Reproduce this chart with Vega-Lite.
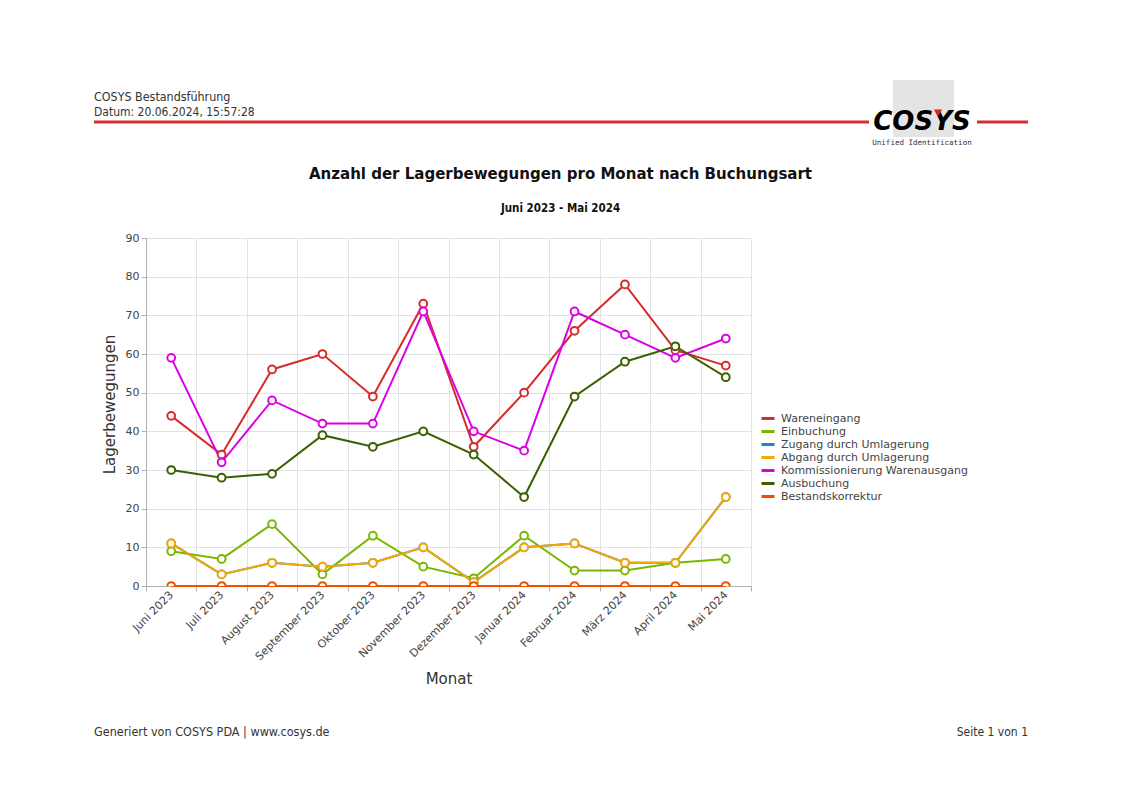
{
  "$schema": "https://vega.github.io/schema/vega-lite/v6.json",
  "background": "white",
  "padding": {"left": 92, "top": 80, "right": 10, "bottom": 10},
  "bounds": "flush",
  "spacing": 20,
  "config": {"view": {"stroke": null}, "font": "DejaVu Sans"},
  "vconcat": [
    {
      "width": 882,
      "height": 96,
      "data": {"values": [{}]},
      "layer": [
        {"mark": {"type": "rule", "color": "#d32f2f", "strokeWidth": 3},
         "encoding": {"x": {"datum": 94, "type": "quantitative", "scale": {"domain": [94, 1028], "range": [-52, 882], "nice": false, "zero": false}, "axis": null}, "x2": {"datum": 869}, "y": {"datum": 122, "type": "quantitative", "scale": {"domain": [122, 218], "range": [0, 96], "nice": false, "zero": false}, "axis": null}}},
        {"mark": {"type": "rule", "color": "#d32f2f", "strokeWidth": 3},
         "encoding": {"x": {"datum": 977, "type": "quantitative"}, "x2": {"datum": 1028}, "y": {"datum": 122, "type": "quantitative"}}},
        {"mark": {"type": "text", "text": "COSYS Bestandsführung", "font": "DejaVu Sans Condensed", "fontSize": 12.4, "color": "#333333", "align": "left", "baseline": "middle"},
         "encoding": {"x": {"datum": 94, "type": "quantitative"}, "y": {"datum": 97, "type": "quantitative"}}},
        {"mark": {"type": "text", "text": "Datum: 20.06.2024, 15:57:28", "font": "DejaVu Sans Condensed", "fontSize": 12, "color": "#333333", "align": "left", "baseline": "middle"},
         "encoding": {"x": {"datum": 94, "type": "quantitative"}, "y": {"datum": 112, "type": "quantitative"}}},
        {"mark": {"type": "rect", "color": "#e4e4e4"},
         "encoding": {"x": {"datum": 893, "type": "quantitative"}, "x2": {"datum": 954}, "y": {"datum": 80, "type": "quantitative"}, "y2": {"datum": 137}}},
        {"mark": {"type": "text", "text": "COSYS", "font": "DejaVu Sans", "fontWeight": "bold", "fontStyle": "italic", "fontSize": 26, "color": "#000000", "align": "center", "baseline": "middle"},
         "encoding": {"x": {"datum": 922, "type": "quantitative"}, "y": {"datum": 122, "type": "quantitative"}}},
        {"mark": {"type": "point", "shape": "triangle-down", "filled": true, "color": "#e02020", "size": 70, "opacity": 1},
         "encoding": {"x": {"datum": 938, "type": "quantitative"}, "y": {"datum": 113, "type": "quantitative"}}},
        {"mark": {"type": "text", "text": "Unified Identification", "font": "DejaVu Sans Mono", "fontSize": 7.5, "color": "#333333", "align": "center", "baseline": "middle"},
         "encoding": {"x": {"datum": 922, "type": "quantitative"}, "y": {"datum": 143, "type": "quantitative"}}}
      ]
    },
    {
      "width": 605,
      "height": 348,
      "title": {"text": "Anzahl der Lagerbewegungen pro Monat nach Buchungsart", "subtitle": "Juni 2023 - Mai 2024", "anchor": "middle", "frame": "group", "dx": 112, "offset": 18, "font": "DejaVu Sans Condensed", "fontSize": 16.7, "fontWeight": "bold", "color": "#111111", "subtitleFont": "DejaVu Sans Condensed", "subtitleFontSize": 11.5, "subtitleFontWeight": "bold", "subtitleColor": "#111111", "subtitlePadding": 20},
      "data": {"values": [
        {"Monat": "Juni 2023", "Wareneingang": 44, "Einbuchung": 9, "Zugang durch Umlagerung": 11, "Abgang durch Umlagerung": 11, "Kommissionierung Warenausgang": 59, "Ausbuchung": 30, "Bestandskorrektur": 0},
        {"Monat": "Juli 2023", "Wareneingang": 34, "Einbuchung": 7, "Zugang durch Umlagerung": 3, "Abgang durch Umlagerung": 3, "Kommissionierung Warenausgang": 32, "Ausbuchung": 28, "Bestandskorrektur": 0},
        {"Monat": "August 2023", "Wareneingang": 56, "Einbuchung": 16, "Zugang durch Umlagerung": 6, "Abgang durch Umlagerung": 6, "Kommissionierung Warenausgang": 48, "Ausbuchung": 29, "Bestandskorrektur": 0},
        {"Monat": "September 2023", "Wareneingang": 60, "Einbuchung": 3, "Zugang durch Umlagerung": 5, "Abgang durch Umlagerung": 5, "Kommissionierung Warenausgang": 42, "Ausbuchung": 39, "Bestandskorrektur": 0},
        {"Monat": "Oktober 2023", "Wareneingang": 49, "Einbuchung": 13, "Zugang durch Umlagerung": 6, "Abgang durch Umlagerung": 6, "Kommissionierung Warenausgang": 42, "Ausbuchung": 36, "Bestandskorrektur": 0},
        {"Monat": "November 2023", "Wareneingang": 73, "Einbuchung": 5, "Zugang durch Umlagerung": 10, "Abgang durch Umlagerung": 10, "Kommissionierung Warenausgang": 71, "Ausbuchung": 40, "Bestandskorrektur": 0},
        {"Monat": "Dezember 2023", "Wareneingang": 36, "Einbuchung": 2, "Zugang durch Umlagerung": 1, "Abgang durch Umlagerung": 1, "Kommissionierung Warenausgang": 40, "Ausbuchung": 34, "Bestandskorrektur": 0},
        {"Monat": "Januar 2024", "Wareneingang": 50, "Einbuchung": 13, "Zugang durch Umlagerung": 10, "Abgang durch Umlagerung": 10, "Kommissionierung Warenausgang": 35, "Ausbuchung": 23, "Bestandskorrektur": 0},
        {"Monat": "Februar 2024", "Wareneingang": 66, "Einbuchung": 4, "Zugang durch Umlagerung": 11, "Abgang durch Umlagerung": 11, "Kommissionierung Warenausgang": 71, "Ausbuchung": 49, "Bestandskorrektur": 0},
        {"Monat": "März 2024", "Wareneingang": 78, "Einbuchung": 4, "Zugang durch Umlagerung": 6, "Abgang durch Umlagerung": 6, "Kommissionierung Warenausgang": 65, "Ausbuchung": 58, "Bestandskorrektur": 0},
        {"Monat": "April 2024", "Wareneingang": 61, "Einbuchung": 6, "Zugang durch Umlagerung": 6, "Abgang durch Umlagerung": 6, "Kommissionierung Warenausgang": 59, "Ausbuchung": 62, "Bestandskorrektur": 0},
        {"Monat": "Mai 2024", "Wareneingang": 57, "Einbuchung": 7, "Zugang durch Umlagerung": 23, "Abgang durch Umlagerung": 23, "Kommissionierung Warenausgang": 64, "Ausbuchung": 54, "Bestandskorrektur": 0}
      ]},
      "transform": [
        {"fold": ["Wareneingang", "Einbuchung", "Zugang durch Umlagerung", "Abgang durch Umlagerung", "Kommissionierung Warenausgang", "Ausbuchung", "Bestandskorrektur"], "as": ["Buchungsart", "Anzahl"]}
      ],
      "encoding": {
        "x": {"field": "Monat", "type": "ordinal",
          "sort": ["Juni 2023", "Juli 2023", "August 2023", "September 2023", "Oktober 2023", "November 2023", "Dezember 2023", "Januar 2024", "Februar 2024", "März 2024", "April 2024", "Mai 2024"],
          "scale": {"type": "band", "paddingInner": 0, "paddingOuter": 0},
          "axis": {"title": "Monat", "labelAngle": -45, "labelAlign": "right", "labelBaseline": "middle", "tickBand": "extent", "grid": true, "gridColor": "#e2e2e2", "domainColor": "#b0b0b0", "tickColor": "#b0b0b0", "tickSize": 5, "labelFont": "DejaVu Sans", "labelFontSize": 11, "labelColor": "#444444", "titleFont": "DejaVu Sans", "titleFontSize": 15, "titleFontWeight": "normal", "titleColor": "#333333", "titlePadding": 10}},
        "y": {"field": "Anzahl", "type": "quantitative",
          "scale": {"domain": [0, 90], "nice": false},
          "axis": {"title": "Lagerbewegungen", "values": [0, 10, 20, 30, 40, 50, 60, 70, 80, 90], "grid": true, "gridColor": "#e2e2e2", "domainColor": "#b0b0b0", "tickColor": "#b0b0b0", "tickSize": 5, "labelFont": "DejaVu Sans", "labelFontSize": 11, "labelColor": "#444444", "titleFont": "DejaVu Sans", "titleFontSize": 15, "titleFontWeight": "normal", "titleColor": "#333333", "titlePadding": 8, "titleY": 166}},
        "color": {"field": "Buchungsart", "type": "nominal",
          "scale": {"domain": ["Wareneingang", "Einbuchung", "Zugang durch Umlagerung", "Abgang durch Umlagerung", "Kommissionierung Warenausgang", "Ausbuchung", "Bestandskorrektur"],
                    "range": ["#d62b2b", "#78b800", "#1a86d0", "#f5a800", "#dc00e6", "#3a6000", "#ee5000"]},
          "legend": {"title": null, "orient": "none", "legendX": 614, "legendY": 290, "direction": "vertical", "symbolType": "stroke", "symbolStrokeWidth": 3, "symbolSize": 169, "labelFont": "DejaVu Sans", "labelFontSize": 11, "labelColor": "#444444", "labelOffset": 5, "labelLimit": 300, "rowPadding": 0, "clipHeight": 13}}
      },
      "layer": [
        {"mark": {"type": "line", "strokeWidth": 2}},
        {"mark": {"type": "point", "filled": false, "fill": "white", "size": 60, "strokeWidth": 2, "opacity": 1, "clip": true}}
      ]
    },
    {
      "width": 882,
      "height": 126,
      "data": {"values": [{}]},
      "layer": [
        {"mark": {"type": "text", "text": "Generiert von COSYS PDA | www.cosys.de", "align": "left", "baseline": "middle", "font": "DejaVu Sans Condensed", "fontSize": 12.5, "color": "#333333"},
         "encoding": {"x": {"datum": 94, "type": "quantitative", "scale": {"domain": [94, 1028], "range": [-52, 882], "nice": false, "zero": false}, "axis": null}, "y": {"datum": 732, "type": "quantitative", "scale": {"domain": [606, 732], "range": [0, 126], "nice": false, "zero": false}, "axis": null}}},
        {"mark": {"type": "text", "text": "Seite 1 von 1", "align": "right", "baseline": "middle", "font": "DejaVu Sans Condensed", "fontSize": 12, "color": "#333333"},
         "encoding": {"x": {"datum": 1028, "type": "quantitative"}, "y": {"datum": 732, "type": "quantitative"}}}
      ]
    }
  ]
}
